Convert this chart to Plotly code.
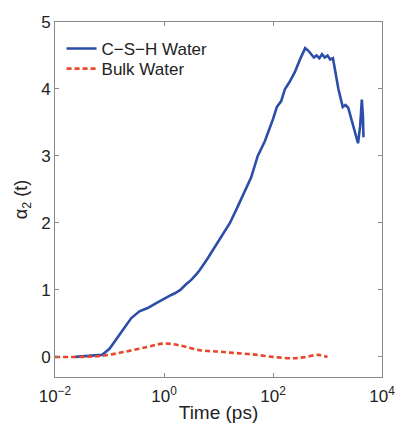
import plotly.graph_objects as go

# log10(time/ps) and alpha_2 values
csh_logt = [-1.63, -1.4, -1.14, -1.0, -0.8, -0.6, -0.45, -0.3, -0.15, 0.0, 0.1, 0.2, 0.3,
            0.4, 0.5, 0.6, 0.66, 0.8, 0.9, 1.0, 1.1, 1.21, 1.35, 1.5, 1.6, 1.72, 1.85, 2.0,
            2.07, 2.15, 2.22, 2.3, 2.4, 2.5, 2.59, 2.65, 2.7, 2.75, 2.8, 2.85, 2.9, 2.95,
            3.0, 3.05, 3.1, 3.2, 3.28, 3.33, 3.38, 3.45, 3.5, 3.56, 3.6, 3.63, 3.65, 3.66]
csh_vals = [0.0, 0.01, 0.03, 0.12, 0.35, 0.58, 0.68, 0.73, 0.80, 0.87, 0.91, 0.95, 1.0,
            1.08, 1.15, 1.24, 1.30, 1.47, 1.6, 1.72, 1.85, 2.0, 2.24, 2.5, 2.68, 3.0, 3.22,
            3.55, 3.73, 3.82, 4.0, 4.1, 4.25, 4.45, 4.61, 4.57, 4.52, 4.47, 4.50, 4.46, 4.52,
            4.47, 4.50, 4.44, 4.46, 4.0, 3.73, 3.76, 3.72, 3.5, 3.35, 3.19, 3.45, 3.84, 3.6,
            3.28]

bulk_logt = [-2.0, -1.5, -1.1, -0.7, -0.3, 0.0, 0.3, 0.66, 1.0, 1.27, 1.6, 2.0, 2.4,
             2.6, 2.83, 3.0]
bulk_vals = [0.0, 0.0, 0.02, 0.08, 0.15, 0.2, 0.17, 0.1, 0.08, 0.06, 0.04, 0.0, -0.02,
             0.0, 0.03, 0.0]

x_tickvals = [0.01, 1, 100, 10000]
x_ticktext = ["10<sup>−2</sup>", "10<sup>0</sup>", "10<sup>2</sup>", "10<sup>4</sup>"]
y_tickvals = [0, 1, 2, 3, 4, 5]

font = "Arial, Liberation Sans, Helvetica, sans-serif"

fig = go.Figure()
fig.add_trace(go.Scatter(
    x=[10 ** v for v in csh_logt], y=csh_vals, mode="lines", name="C−S−H Water",
    line=dict(color="#2c4da8", width=2.6), legend="legend"))
fig.add_trace(go.Scatter(
    x=[10 ** v for v in bulk_logt], y=bulk_vals, mode="lines", name="Bulk Water",
    line=dict(color="#e8472b", width=2.6, dash="5px,3px", shape="spline"),
    legend="legend2"))

axis_common = dict(showline=True, linecolor="#8a8a8a", linewidth=1, mirror="ticks",
                   ticks="inside", ticklen=4, tickcolor="#8a8a8a", showgrid=False,
                   zeroline=False, automargin=False,
                   tickfont=dict(family=font, size=17, color="#222"))

legend_common = dict(xanchor="left", yanchor="top", bgcolor="rgba(0,0,0,0)",
                     font=dict(family=font, size=17, color="#222"), itemwidth=30)

fig.update_layout(
    width=396, height=423,
    margin=dict(l=55, r=14, t=22, b=46),
    paper_bgcolor="white", plot_bgcolor="white",
    font=dict(family=font, color="#222"),
    showlegend=True,
    legend=dict(x=0.02, y=0.975, **legend_common),
    legend2=dict(x=0.02, y=0.918, **legend_common),
    xaxis=dict(type="log", range=[-2, 4], tickvals=x_tickvals, ticktext=x_ticktext,
               ticklabelstandoff=4,
               title=dict(text="Time (ps)", font=dict(family=font, size=19, color="#222"),
                          standoff=0),
               **axis_common),
    yaxis=dict(range=[-0.3, 5], tickvals=y_tickvals,
               title=dict(text="α<sub>2</sub> (t)", font=dict(family=font, size=18, color="#222"),
                          standoff=8),
               **axis_common),
)

fig.write_html("out.html")
